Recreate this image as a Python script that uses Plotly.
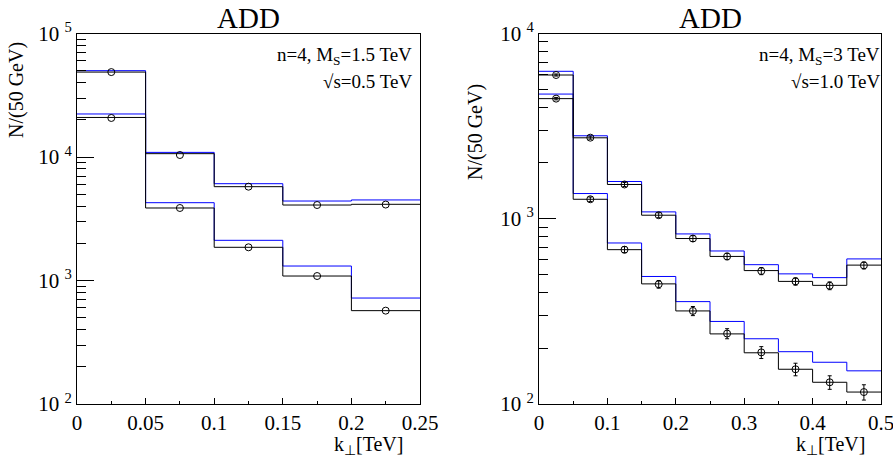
import plotly.graph_objects as go

W, H = 893, 462

# ---------------- data ----------------
# Left panel: sqrt(s)=0.5 TeV, bins of 0.05 TeV
left_edges = [0.0, 0.05, 0.10, 0.15, 0.20, 0.25]
left_centers = [0.025, 0.075, 0.125, 0.175, 0.225]
left_upper_black = [48700, 10640, 5750, 4085, 4140]
left_upper_blue = [50000, 10900, 6080, 4400, 4490]
left_upper_pts = [48700, 10380, 5750, 4085, 4120]
left_lower_black = [20900, 3865, 1857, 1087, 570]
left_lower_blue = [22300, 4265, 2115, 1310, 721]
left_lower_pts = [20700, 3865, 1857, 1087, 570]

# Right panel: sqrt(s)=1.0 TeV
right_edges = [0.0, 0.05, 0.10, 0.15, 0.20, 0.25, 0.30, 0.35, 0.40, 0.45, 0.50]
right_centers = [0.025, 0.075, 0.125, 0.175, 0.225, 0.275, 0.325, 0.375, 0.425, 0.475]
right_upper_black = [5970, 2735, 1531, 1045, 782, 626, 525, 459, 437, 562]
right_upper_blue = [6250, 2805, 1589, 1089, 828, 670, 565, 504, 481, 607]
right_upper_pts = [5970, 2740, 1531, 1045, 782, 626, 522, 459, 435, 560]
right_upper_err = [77, 52, 39, 32, 28, 25, 23, 21, 21, 24]
right_lower_black = [4450, 1274, 681, 445, 318, 239, 189, 154, 131, 116]
right_lower_blue = [4710, 1368, 740, 488, 357, 279, 225, 191.6, 168, 151]
right_lower_pts = [4450, 1274, 681, 443, 318, 240, 190, 154, 131, 116]
right_lower_err = [67, 36, 26, 21, 18, 15, 14, 12, 11, 11]

left_xticks = [0, 0.05, 0.1, 0.15, 0.2, 0.25]
right_xticks = [0, 0.1, 0.2, 0.3, 0.4, 0.5]

FONT = "Liberation Serif"


def px_x(p):
    return p / W


def px_y(p):
    return 1 - p / H


def step(edges, vals):
    return list(edges), list(vals) + [vals[-1]]


fig = go.Figure()


def add_panel(xa, ya, edges, centers, hists, pts, errs):
    for vals, col in hists:
        xs, ys = step(edges, vals)
        fig.add_trace(go.Scatter(x=xs, y=ys, mode="lines", line_shape="hv",
                                 line=dict(color=col, width=1),
                                 xaxis=xa, yaxis=ya, showlegend=False,
                                 hoverinfo="skip"))
    for p, e in zip(pts, errs):
        kw = {}
        if e is not None:
            kw["error_y"] = dict(type="data", array=e, color="black",
                                 thickness=1, width=2)
        fig.add_trace(go.Scatter(x=centers, y=p, mode="markers",
                                 marker=dict(symbol="circle-open", size=7,
                                             color="black",
                                             line=dict(color="black", width=1)),
                                 xaxis=xa, yaxis=ya, showlegend=False, **kw))


add_panel("x", "y", left_edges, left_centers,
          [(left_upper_blue, "#0000ff"), (left_lower_blue, "#0000ff"),
           (left_upper_black, "black"), (left_lower_black, "black")],
          [left_upper_pts, left_lower_pts], [None, None])
add_panel("x2", "y2", right_edges, right_centers,
          [(right_upper_blue, "#0000ff"), (right_lower_blue, "#0000ff"),
           (right_upper_black, "black"), (right_lower_black, "black")],
          [right_upper_pts, right_lower_pts], [right_upper_err, right_lower_err])

ydom = [px_y(404), px_y(33.5)]


def minor_vals(lo, hi):
    out = []
    for d in range(lo, hi):
        for m in range(2, 10):
            out.append(m * 10 ** d)
    return out


def yaxis(lo, hi, dom_anchor):
    vals = [10 ** d for d in range(lo, hi + 1)]
    txt = ["10 <sup>%d</sup>" % d for d in range(lo, hi + 1)]
    return dict(type="log", range=[lo, hi], domain=ydom, anchor=dom_anchor,
                automargin=False, ticklabeloverflow="allow",
                tickmode="array", tickvals=vals, ticktext=txt,
                ticks="inside", ticklen=17, tickwidth=1, tickcolor="black",
                minor=dict(tickmode="array", tickvals=minor_vals(lo, hi),
                           ticks="inside", ticklen=9, tickwidth=1,
                           tickcolor="black", showgrid=False),
                showline=True, linecolor="black", linewidth=1, mirror=True,
                showgrid=False, zeroline=False,
                tickfont=dict(family=FONT, size=21, color="black"))


def xaxis(rng, ticks, minor_dt, dom, anchor):
    return dict(range=rng, domain=dom, anchor=anchor, automargin=False,
                ticklabeloverflow="allow",
                tickmode="array", tickvals=ticks,
                ticktext=[("%g" % t) for t in ticks],
                ticks="inside", ticklen=6, tickwidth=1, tickcolor="black",
                minor=dict(dtick=minor_dt, ticks="inside", ticklen=3,
                           tickwidth=1, tickcolor="black", showgrid=False),
                showline=True, linecolor="black", linewidth=1, mirror=True,
                showgrid=False, zeroline=False,
                tickfont=dict(family=FONT, size=21, color="black"))


fig.update_layout(
    width=W, height=H, autosize=False,
    margin=dict(l=0, r=0, t=0, b=0, pad=0, autoexpand=False),
    paper_bgcolor="white", plot_bgcolor="white",
    xaxis=xaxis([0, 0.25], left_xticks, 0.025, [px_x(77), px_x(420)], "y"),
    yaxis=yaxis(2, 5, "x"),
    xaxis2=xaxis([0, 0.5], right_xticks, 0.05, [px_x(539), px_x(881)], "y2"),
    yaxis2=yaxis(2, 4, "x2"),
)

ann = []
tf = dict(family=FONT, color="black")
# titles
for cx in [(77 + 420) / 2, (539 + 881) / 2]:
    ann.append(dict(text="ADD", x=px_x(cx), y=px_y(18), xanchor="center",
                    yanchor="middle", font=dict(size=29, **tf)))
# info text
ann.append(dict(text="n=4, M<sub>S</sub>=1.5 TeV", x=px_x(414), y=px_y(56),
                xanchor="right", yanchor="middle", font=dict(size=19, **tf)))
ann.append(dict(text="√s=0.5 TeV", x=px_x(414), y=px_y(81),
                xanchor="right", yanchor="middle", font=dict(size=19, **tf)))
ann.append(dict(text="n=4, M<sub>S</sub>=3 TeV", x=px_x(882), y=px_y(56),
                xanchor="right", yanchor="middle", font=dict(size=19, **tf)))
ann.append(dict(text="√s=1.0 TeV", x=px_x(882), y=px_y(81),
                xanchor="right", yanchor="middle", font=dict(size=19, **tf)))
# y titles
ann.append(dict(text="N/(50 GeV)", textangle=-90, x=px_x(17), y=px_y(40),
                xanchor="center", yanchor="top", font=dict(size=20, **tf)))
ann.append(dict(text="N/(50 GeV)", textangle=-90, x=px_x(475), y=px_y(82),
                xanchor="center", yanchor="top", font=dict(size=20, **tf)))
# x titles
ann.append(dict(text="k<sub>⊥</sub>[TeV]", x=px_x(405), y=px_y(445),
                xanchor="right", yanchor="middle", font=dict(size=20, **tf)))
ann.append(dict(text="k<sub>⊥</sub>[TeV]", x=px_x(867), y=px_y(445),
                xanchor="right", yanchor="middle", font=dict(size=20, **tf)))
for a in ann:
    a.update(xref="paper", yref="paper", showarrow=False)
fig.update_layout(annotations=ann)

fig.write_html("out.html", config={"displayModeBar": False},
               post_script="document.body.style.margin='0';document.body.style.overflow='hidden';")
